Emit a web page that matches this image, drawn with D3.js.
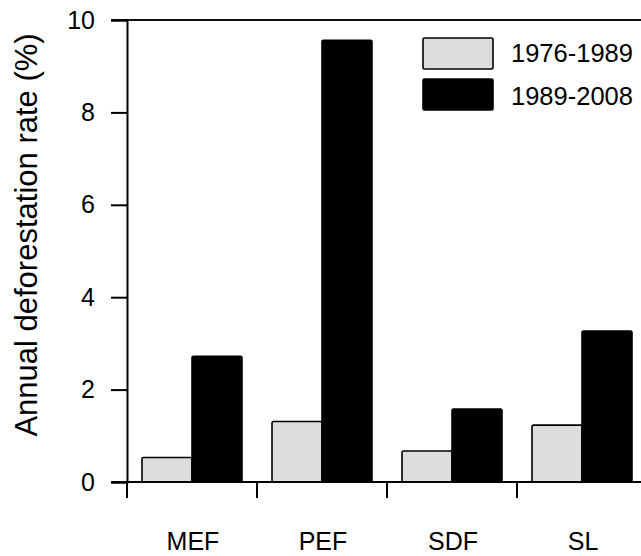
<!DOCTYPE html>
<html>
<head>
<meta charset="utf-8">
<script src="https://cdn.jsdelivr.net/npm/d3@7"></script>
<style>
  html, body { margin: 0; padding: 0; background: #fff; }
  svg { display: block; font-family: "Liberation Sans", Arial, sans-serif; }
</style>
</head>
<body>
<svg id="chart" width="641" height="556"></svg>
<script>
const categories = ["MEF", "PEF", "SDF", "SL"];
const seriesNames = ["1976-1989", "1989-2008"];
const values1976 = [0.53, 1.31, 0.67, 1.23];
const values1989 = [2.72, 9.56, 1.58, 3.27];
const yTicks = [0, 2, 4, 6, 8, 10];
const yLabel = "Annual deforestation rate (%)";

const svg = d3.select("#chart");
const colors = ["#dddddd", "#000000"];
const data = categories.map((c, i) => ({ cat: c, vals: [values1976[i], values1989[i]] }));

const x = d3.scaleBand().domain(categories).range([127, 647]).paddingInner(0).paddingOuter(0);
const inner = d3.scaleBand().domain(seriesNames).range([15, 115]).padding(0);
const y = d3.scaleLinear().domain([0, 10]).range([482, 20]);

// bars
const groups = svg.append("g").selectAll("g").data(data).join("g")
  .attr("transform", d => `translate(${x(d.cat)},0)`);
groups.selectAll("rect").data(d => d.vals.map((v, j) => ({ v, s: seriesNames[j], j })))
  .join("rect")
  .attr("x", d => inner(d.s))
  .attr("width", inner.bandwidth())
  .attr("y", d => y(d.v))
  .attr("height", d => y(0) - y(d.v))
  .attr("fill", d => colors[d.j])
  .attr("stroke", "#000")
  .attr("stroke-width", 1.6)
  .attr("rx", 1.5);

// top frame line
svg.append("line")
  .attr("x1", 111).attr("x2", 641)
  .attr("y1", y(10)).attr("y2", y(10))
  .attr("stroke", "#111").attr("stroke-width", 2);

// bottom line
svg.append("line")
  .attr("x1", 111).attr("x2", 641)
  .attr("y1", y(0)).attr("y2", y(0))
  .attr("stroke", "#000").attr("stroke-width", 2);

// y axis
const yAxis = d3.axisLeft(y).tickValues(yTicks).tickSize(16).tickPadding(16).tickFormat(d3.format("d"));
const ya = svg.append("g").attr("transform", "translate(127,0)").call(yAxis);
ya.select(".domain").attr("stroke", "#000").attr("stroke-width", 2);
ya.selectAll(".tick line").attr("stroke", "#000").attr("stroke-width", 2);
ya.selectAll(".tick text").attr("font-size", 25).attr("fill", "#000")
  .attr("font-family", "Liberation Sans, Arial, sans-serif");

// x ticks at band boundaries
svg.append("g").selectAll("line").data(categories).join("line")
  .attr("x1", d => x(d)).attr("x2", d => x(d))
  .attr("y1", y(0)).attr("y2", y(0) + 16)
  .attr("stroke", "#000").attr("stroke-width", 2);

// category labels
svg.append("g").selectAll("text").data(categories).join("text")
  .attr("x", d => x(d) + x.bandwidth() / 2 + 1)
  .attr("y", 550)
  .attr("text-anchor", "middle")
  .attr("font-size", 25)
  .attr("fill", "#000")
  .text(d => d);

// y label
svg.append("text")
  .attr("transform", "translate(37,235) rotate(-90)")
  .attr("text-anchor", "middle")
  .attr("font-size", 31)
  .attr("fill", "#000")
  .text(yLabel);

// legend
const legend = svg.append("g");
seriesNames.forEach((s, i) => {
  legend.append("rect")
    .attr("x", 423).attr("y", 38 + i * 41)
    .attr("width", 70).attr("height", 31)
    .attr("fill", colors[i]).attr("stroke", "#000").attr("stroke-width", 1.6).attr("rx", 1.5);
  legend.append("text")
    .attr("x", 511).attr("y", 62 + i * 43)
    .attr("font-size", 25.5).attr("fill", "#000")
    .text(s);
});
</script>
</body>
</html>
